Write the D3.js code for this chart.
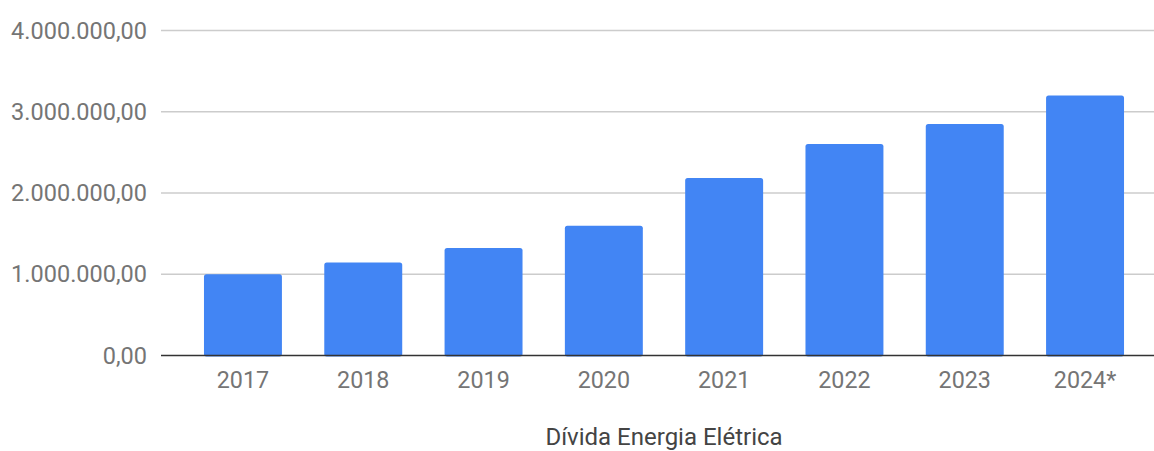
<!DOCTYPE html>
<html><head><meta charset="utf-8">
<script src="https://cdn.jsdelivr.net/npm/d3@7"></script>
<style>html,body{margin:0;padding:0;background:#fff;}svg{display:block;}</style>
</head><body>
<svg id="chart" width="1154" height="451"></svg>
<script>
const categories = ["2017","2018","2019","2020","2021","2022","2023","2024*"];
const values = [1000000, 1144000, 1322000, 1597000, 2185000, 2604000, 2850000, 3200000];
const yTicks = [0, 1000000, 2000000, 3000000, 4000000];
const seriesName = "Dívida Energia Elétrica";

const svg = d3.select("#chart");
const plotLeft = 161, plotRight = 1154;
const x = d3.scaleBand().domain(categories).range([182.8, 1145.2]).paddingInner(0.352).paddingOuter(0.176);
const y = d3.scaleLinear().domain([0, 4000000]).range([355.5, 30.5]);

const fmt = v => {
  const s = d3.format(",.2f")(v);
  return s.replace(/,/g, "#").replace(".", ",").replace(/#/g, ".");
};

const font = "Roboto, 'Noto Sans', Arial, sans-serif";

// gridlines
svg.append("g").selectAll("line").data(yTicks.filter(d => d !== 0)).join("line")
  .attr("x1", plotLeft).attr("x2", plotRight)
  .attr("y1", d => y(d)).attr("y2", d => y(d))
  .attr("stroke", "#cccccc").attr("stroke-width", 1.3);

// y labels
svg.append("g").selectAll("text").data(yTicks).join("text")
  .attr("x", 147).attr("y", d => y(d)).attr("dy", "0.35em")
  .attr("text-anchor", "end")
  .style("font-family", font).style("font-size", "23.5px").attr("fill", "#757575")
  .text(d => fmt(d));

// bars
svg.append("g").selectAll("rect").data(values).join("rect")
  .attr("x", (d, i) => x(categories[i]))
  .attr("width", x.bandwidth())
  .attr("y", d => y(d))
  .attr("height", d => y(0) - y(d) + 1)
  .attr("rx", 2.5)
  .attr("fill", "#4285f4");

// baseline
svg.append("line").attr("x1", plotLeft).attr("x2", plotRight)
  .attr("y1", y(0)).attr("y2", y(0))
  .attr("stroke", "#333").attr("stroke-width", 1.5);

// x labels
svg.append("g").selectAll("text").data(categories).join("text")
  .attr("x", d => x(d) + x.bandwidth() / 2).attr("y", 388)
  .attr("text-anchor", "middle")
  .style("font-family", font).style("font-size", "23.3px").attr("fill", "#757575")
  .text(d => d);

// legend / title
svg.append("text").attr("x", 664).attr("y", 445)
  .attr("text-anchor", "middle")
  .style("font-family", font).style("font-size", "24px").attr("fill", "#444")
  .text(seriesName);
</script>
</body></html>
